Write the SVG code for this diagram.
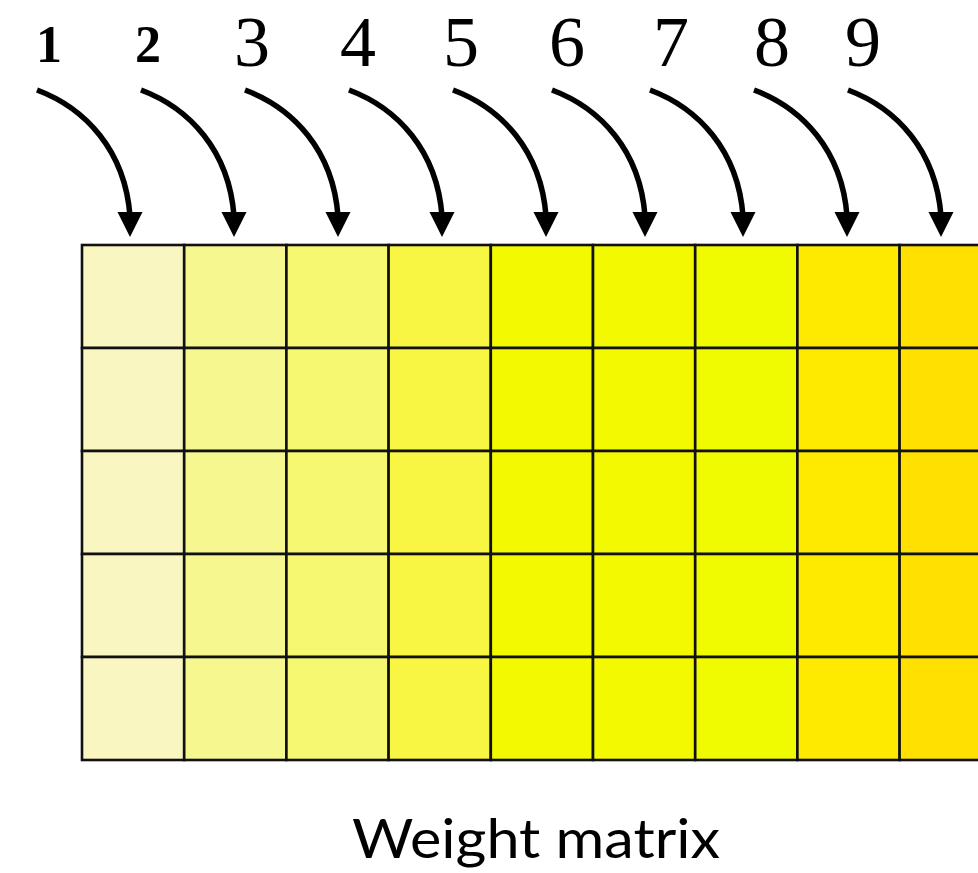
<svg xmlns="http://www.w3.org/2000/svg" xmlns:xlink="http://www.w3.org/1999/xlink" width="978" height="873" viewBox="0 0 978 873">
<style>
.lblb{font-family:"Liberation Serif","Times New Roman",serif;font-weight:bold;font-size:52px;fill:#000;text-anchor:middle}
.lbl{font-family:"Liberation Serif","Times New Roman",serif;font-size:72px;fill:#000;text-anchor:middle}
.title{font-family:Lato,"Open Sans",sans-serif;font-size:55px;fill:#000}
.cell{stroke:#111;stroke-width:2.6}
.c1{fill:#f9f6c1}.c2{fill:#f7f790}.c3{fill:#f7f872}.c4{fill:#f8f543}.c5{fill:#f2f900}.c6{fill:#f2f900}.c7{fill:#f0fa00}.c8{fill:#feea00}.c9{fill:#ffe000}
.arr{fill:none;stroke:#000;stroke-width:5.5}
</style>
<defs>
<g id="arrow">
<path class="arr" d="M0,0 C48,18 88,60 93,126"/>
<polygon points="80.5,122 105.5,122 93,147" fill="#000"/>
</g>
</defs>
<rect width="978" height="873" fill="#fff"/>
<g id="labels">
<text class="lblb" x="49" y="62">1</text>
<text class="lblb" x="148" y="62">2</text>
<text class="lbl" x="252" y="66">3</text>
<text class="lbl" x="358" y="66">4</text>
<text class="lbl" x="461" y="66">5</text>
<text class="lbl" x="567" y="66">6</text>
<text class="lbl" x="671" y="66">7</text>
<text class="lbl" x="772" y="66">8</text>
<text class="lbl" x="863" y="66">9</text>
</g>
<g id="connectors">
<use xlink:href="#arrow" transform="translate(37,90)"/>
<use xlink:href="#arrow" transform="translate(141,90)"/>
<use xlink:href="#arrow" transform="translate(245,90)"/>
<use xlink:href="#arrow" transform="translate(349,90)"/>
<use xlink:href="#arrow" transform="translate(453,90)"/>
<use xlink:href="#arrow" transform="translate(552,90)"/>
<use xlink:href="#arrow" transform="translate(650,90)"/>
<use xlink:href="#arrow" transform="translate(754,90)"/>
<use xlink:href="#arrow" transform="translate(848,90)"/>
</g>
<g id="matrix">
<g id="col1" class="cell c1"><rect x="82" y="245" width="102.2" height="103"/><rect x="82" y="348" width="102.2" height="103"/><rect x="82" y="451" width="102.2" height="103"/><rect x="82" y="554" width="102.2" height="103"/><rect x="82" y="657" width="102.2" height="103"/></g>
<g id="col2" class="cell c2"><rect x="184.2" y="245" width="102.2" height="103"/><rect x="184.2" y="348" width="102.2" height="103"/><rect x="184.2" y="451" width="102.2" height="103"/><rect x="184.2" y="554" width="102.2" height="103"/><rect x="184.2" y="657" width="102.2" height="103"/></g>
<g id="col3" class="cell c3"><rect x="286.4" y="245" width="102.2" height="103"/><rect x="286.4" y="348" width="102.2" height="103"/><rect x="286.4" y="451" width="102.2" height="103"/><rect x="286.4" y="554" width="102.2" height="103"/><rect x="286.4" y="657" width="102.2" height="103"/></g>
<g id="col4" class="cell c4"><rect x="388.6" y="245" width="102.2" height="103"/><rect x="388.6" y="348" width="102.2" height="103"/><rect x="388.6" y="451" width="102.2" height="103"/><rect x="388.6" y="554" width="102.2" height="103"/><rect x="388.6" y="657" width="102.2" height="103"/></g>
<g id="col5" class="cell c5"><rect x="490.8" y="245" width="102.2" height="103"/><rect x="490.8" y="348" width="102.2" height="103"/><rect x="490.8" y="451" width="102.2" height="103"/><rect x="490.8" y="554" width="102.2" height="103"/><rect x="490.8" y="657" width="102.2" height="103"/></g>
<g id="col6" class="cell c6"><rect x="593" y="245" width="102.2" height="103"/><rect x="593" y="348" width="102.2" height="103"/><rect x="593" y="451" width="102.2" height="103"/><rect x="593" y="554" width="102.2" height="103"/><rect x="593" y="657" width="102.2" height="103"/></g>
<g id="col7" class="cell c7"><rect x="695.2" y="245" width="102.2" height="103"/><rect x="695.2" y="348" width="102.2" height="103"/><rect x="695.2" y="451" width="102.2" height="103"/><rect x="695.2" y="554" width="102.2" height="103"/><rect x="695.2" y="657" width="102.2" height="103"/></g>
<g id="col8" class="cell c8"><rect x="797.4" y="245" width="102.2" height="103"/><rect x="797.4" y="348" width="102.2" height="103"/><rect x="797.4" y="451" width="102.2" height="103"/><rect x="797.4" y="554" width="102.2" height="103"/><rect x="797.4" y="657" width="102.2" height="103"/></g>
<g id="col9" class="cell c9"><rect x="899.6" y="245" width="102.2" height="103"/><rect x="899.6" y="348" width="102.2" height="103"/><rect x="899.6" y="451" width="102.2" height="103"/><rect x="899.6" y="554" width="102.2" height="103"/><rect x="899.6" y="657" width="102.2" height="103"/></g>
</g>
<g id="title">
<text class="title" x="352" y="858" textLength="368" lengthAdjust="spacingAndGlyphs">Weight matrix</text>
</g>
</svg>
